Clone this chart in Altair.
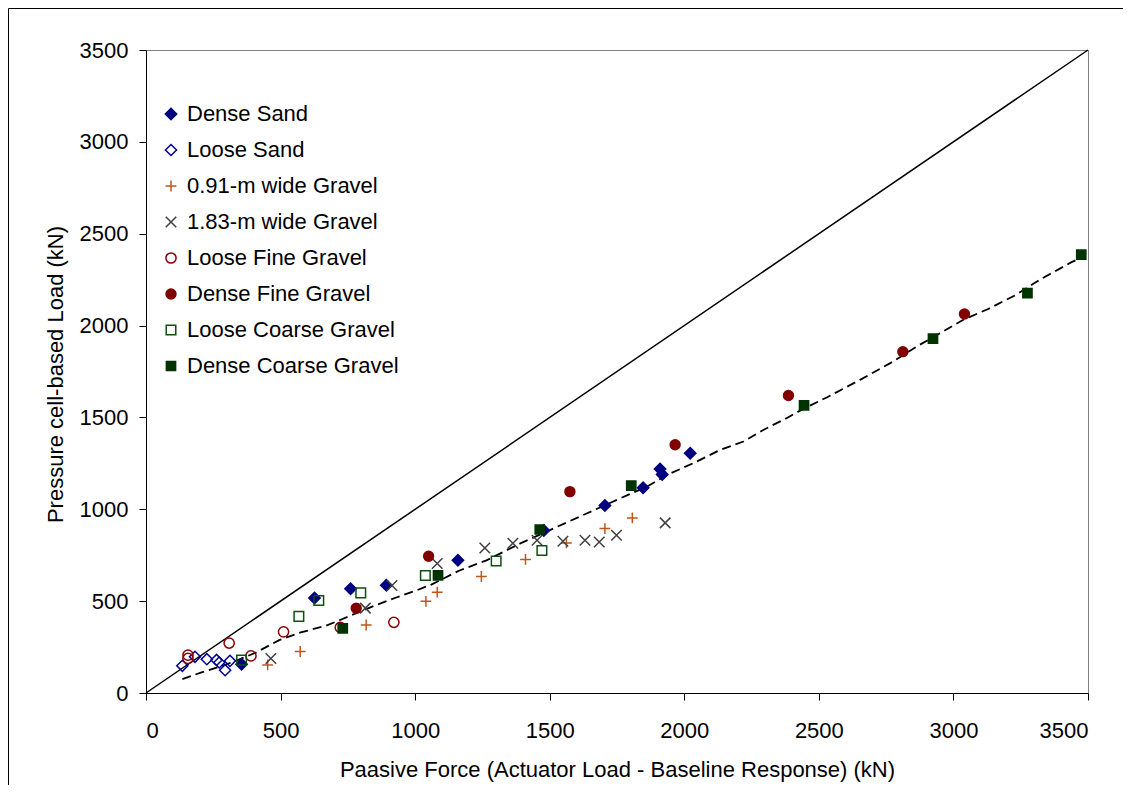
import altair as alt
import pandas as pd

series = ["Dense Sand", "Loose Sand", "0.91-m wide Gravel", "1.83-m wide Gravel",
          "Loose Fine Gravel", "Dense Fine Gravel", "Loose Coarse Gravel", "Dense Coarse Gravel"]

dense_sand_x = [355, 626, 760, 893, 1159, 1478, 1705, 1847, 1910, 1918, 2022]
dense_sand_y = [157, 517, 567, 587, 722, 884, 1021, 1117, 1219, 1190, 1305]

loose_sand_x = [135, 182, 226, 262, 272, 294, 312]
loose_sand_y = [148, 197, 184, 180, 166, 124, 175]

g091_x = [452, 573, 818, 1040, 1082, 1246, 1410, 1562, 1705, 1807]
g091_y = [153, 226, 370, 499, 549, 634, 727, 817, 895, 953]

g183_x = [464, 815, 914, 1082, 1259, 1363, 1453, 1549, 1631, 1684, 1748, 1929]
g183_y = [188, 462, 585, 705, 789, 815, 831, 826, 831, 822, 859, 926]

loose_fine_x = [156, 156, 309, 390, 511, 722, 921]
loose_fine_y = [206, 188, 272, 202, 333, 357, 385]

dense_fine_x = [781, 1050, 1575, 1966, 2387, 2812, 3041]
dense_fine_y = [461, 744, 1096, 1351, 1619, 1858, 2063]

loose_coarse_x = [355, 568, 642, 798, 1038, 1301, 1471]
loose_coarse_y = [179, 417, 503, 545, 640, 718, 776]

dense_coarse_x = [731, 1085, 1463, 1803, 2445, 2924, 3275, 3475]
dense_coarse_y = [352, 640, 890, 1129, 1566, 1929, 2177, 2386]

trend_x = [135, 204, 272, 334, 408, 495, 575, 669, 730, 850, 930, 1004, 1060, 1165, 1265,
           1389, 1513, 1637, 1761, 1861, 1935, 2034, 2133, 2220, 2295, 2385, 2440, 2531,
           2655, 2767, 2866, 2953, 3040, 3127, 3226, 3325, 3437, 3480]
trend_y = [75, 111, 142, 175, 220, 288, 330, 366, 403, 476, 520, 558, 590, 667, 722,
           813, 895, 977, 1059, 1123, 1187, 1251, 1323, 1369, 1433, 1500, 1545, 1610,
           1706, 1797, 1888, 1961, 2034, 2089, 2162, 2253, 2344, 2372]

ref_x = [0, 3500]
ref_y = [0, 3500]

ticks = [0, 500, 1000, 1500, 2000, 2500, 3000, 3500]

colors = ["#000080", "#000099", "#c0561c", "#404040", "#8b0000", "#800000", "#0f4f0f", "#003300"]
fills = ["#000080", "transparent", "transparent", "transparent", "transparent", "#800000",
         "transparent", "#003300"]
shapes = ["diamond", "diamond", "M-1,0L1,0M0,-1L0,1", "M-1,-1L1,1M-1,1L1,-1",
          "circle", "circle", "square", "square"]
sizes = [130, 85, 140, 130, 140, 175, 135, 100]

all_x = [dense_sand_x, loose_sand_x, g091_x, g183_x, loose_fine_x, dense_fine_x,
         loose_coarse_x, dense_coarse_x]
all_y = [dense_sand_y, loose_sand_y, g091_y, g183_y, loose_fine_y, dense_fine_y,
         loose_coarse_y, dense_coarse_y]

rows = []
for i, s in enumerate(series):
    for xv, yv in zip(all_x[i], all_y[i]):
        rows.append({"x": xv, "y": yv, "series": s, "order": i})
pts = pd.DataFrame(rows)

FONT = "Liberation Sans"

x_enc = alt.X("x:Q", scale=alt.Scale(domain=[0, 3500], nice=False),
              axis=alt.Axis(values=ticks, format="d",
                            title="Paasive Force (Actuator Load - Baseline Response) (kN)",
                            labelPadding=20, titleX=471, titleY=83, titleBaseline="alphabetic",
                            titleAlign="center"))
y_enc = alt.Y("y:Q", scale=alt.Scale(domain=[0, 3500], nice=False),
              axis=alt.Axis(values=ticks, format="d", title="Pressure cell-based Load (kN)",
                            labelPadding=11, titleX=-84, titleY=324, titleAngle=270,
                            titleBaseline="alphabetic", titleAlign="center"))

leg = alt.Legend(title=None, orient="none", legendX=14, legendY=53, labelFontSize=22,
                 labelFont=FONT, labelColor="black", rowPadding=14, padding=0,
                 labelOffset=5, labelLimit=0, symbolStrokeWidth=1.5)

frame = alt.Chart(pd.DataFrame({"a": [0]})).mark_rule(color="black", strokeWidth=1).encode(
    x=alt.value(-137.5), y=alt.value(-41.5), y2=alt.value(740))
frame_top = alt.Chart(pd.DataFrame({"a": [0]})).mark_rule(color="black", strokeWidth=1).encode(
    x=alt.value(-137.5), x2=alt.value(990), y=alt.value(-41.5))

ref = alt.Chart(pd.DataFrame({"x": ref_x, "y": ref_y})).mark_line(
    color="black", strokeWidth=1.5).encode(x=x_enc, y=y_enc)

trend = alt.Chart(pd.DataFrame({"x": trend_x, "y": trend_y})).mark_line(
    color="black", strokeWidth=1.8, strokeDash=[9, 5]).encode(x=x_enc, y=y_enc)

points = alt.Chart(pts).mark_point(strokeWidth=1.5, opacity=1).encode(
    x=x_enc, y=y_enc,
    shape=alt.Shape("series:N", scale=alt.Scale(domain=series, range=shapes), legend=leg),
    stroke=alt.Stroke("series:N", scale=alt.Scale(domain=series, range=colors), legend=leg),
    fill=alt.Fill("series:N", scale=alt.Scale(domain=series, range=fills), legend=leg),
    size=alt.Size("series:N", scale=alt.Scale(domain=series, range=sizes), legend=leg),
    order=alt.Order("order:Q"),
)

chart = alt.layer(frame, frame_top, ref, trend, points).properties(
    width=942, height=643,
    autosize=alt.AutoSizeParams(type="none"),
    padding={"left": 138, "top": 42, "right": 35, "bottom": 92},
    background="white",
).configure_view(stroke="#808080", strokeWidth=1).configure_axis(
    domainColor="black", tickColor="black", labelColor="black", titleColor="black",
    labelFont=FONT, titleFont=FONT, labelFontSize=22, titleFontSize=22,
    titleFontWeight="normal", grid=False, tickSize=7, domainWidth=1, tickWidth=1,
)

chart.save("out.html", embed_options={"renderer": "svg", "actions": False})
